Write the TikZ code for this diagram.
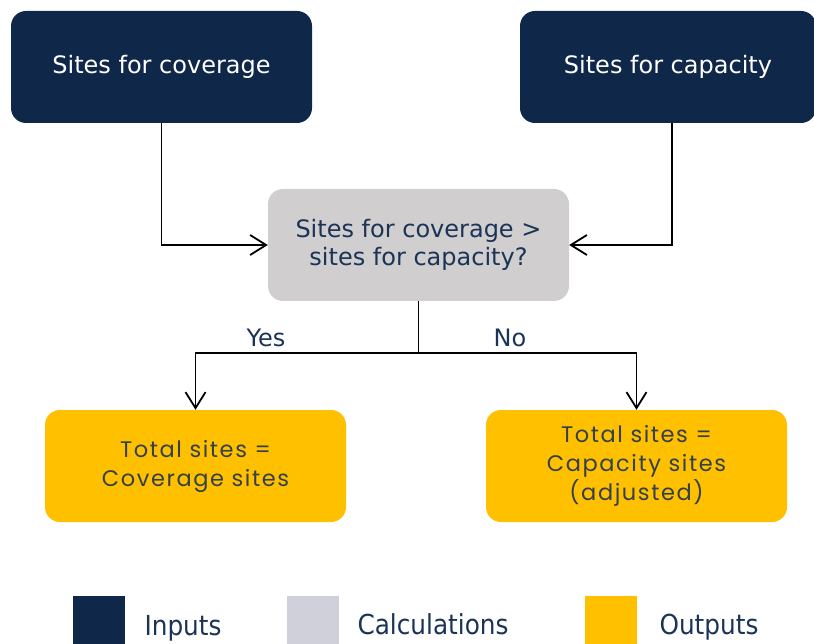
\documentclass[tikz,border=0pt]{standalone}
\usepackage{fontspec}
\setmainfont{DejaVu Sans}
\newfontfamily\outfont[LetterSpace=7]{Poppins}
\newfontfamily\legfont[FakeStretch=0.9]{DejaVu Sans}
\usetikzlibrary{arrows.meta}
\definecolor{navy}{HTML}{0F2849}
\definecolor{calcgray}{HTML}{D0CECE}
\definecolor{leggray}{HTML}{D0D0DA}
\definecolor{outyellow}{HTML}{FFC000}
\definecolor{navytext}{HTML}{1B3356}
\definecolor{outtext}{HTML}{35404E}
\begin{document}
\begin{tikzpicture}[x=1pt,y=-1pt,
box/.style={rounded corners=15,minimum height=112,inner sep=0,align=center},
input/.style={box,fill=navy,text=white,font=\fontsize{24}{28}\selectfont},
calc/.style={box,fill=calcgray,minimum width=301,text=navytext,font=\fontsize{24}{28}\selectfont},
output/.style={box,fill=outyellow,minimum width=301,text=outtext,font=\outfont\fontsize{22.5}{29}\selectfont},
legbox/.style={minimum width=52,minimum height=50,inner sep=0},
legtext/.style={anchor=base west,text=navytext,font=\legfont\fontsize{27.5}{30}\selectfont},
arw/.style={-{Straight Barb[length=16,width=20]},line width=1.8}
]
\useasboundingbox(0,0)rectangle(814,644);
%\draw[help lines,step=50](0,0)grid(814,644);
\node[input,minimum width=301]at(161.5,67)(cov){Sites for coverage};
\node[input,minimum width=296]at(668,67)(cap){Sites for capacity};
\node[calc]at(418.5,245)(test){Sites for coverage >\\sites for capacity?};
\node[output]at(195.5,466)(totcov){Total sites =\\Coverage sites};
\node[output]at(636.5,466)(totcap){Total sites =\\Capacity sites\\(adjusted)};
\coordinate(split)at(418.5,353);

\draw[arw](cov.south)|-(test.west);
\draw[arw]([xshift=4]cap.south)|-(test.east);
\draw[line width=1.8](test.south)--(split);
\draw[arw](split)-|(totcov.north);
\draw[arw](split)-|(totcap.north);
\node[text=navytext,font=\fontsize{24}{28}\selectfont]at(266,338)(yes){Yes};
\node[text=navytext,font=\fontsize{24}{28}\selectfont]at(510,338)(no){No};

% legend
\node[legbox,fill=navy]at(99,621)(linp){};
\node[legbox,fill=leggray]at(312.5,621)(lcalc){};
\node[legbox,fill=outyellow]at(611,621)(lout){};
\node[legtext]at(141,635)(tinp){Inputs};
\node[legtext]at(354,634)(tcalc){Calculations};
\node[legtext]at(656,634)(tout){Outputs};
\end{tikzpicture}
\end{document}
